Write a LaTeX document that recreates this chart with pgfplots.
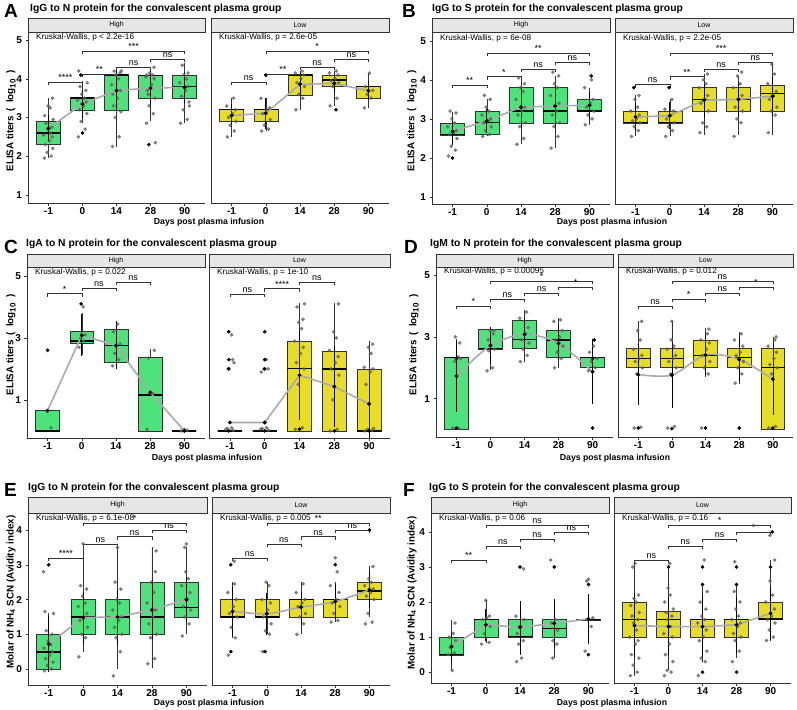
\documentclass[border=0pt]{standalone}
\usepackage{pgfplots}
\pgfplotsset{compat=1.18}
\usepgfplotslibrary{statistics}
\usepackage{fontspec}
\setmainfont{Liberation Sans}
\definecolor{hi}{RGB}{78,226,122}
\definecolor{lo}{RGB}{231,221,38}
\definecolor{mline}{RGB}{170,170,170}
\definecolor{stripbg}{RGB}{230,230,230}
\definecolor{dk}{RGB}{51,51,51}
\definecolor{ptc}{RGB}{95,95,95}
\pgfplotsset{
  fac/.style={scale only axis, height=171pt, xmin=0.4, xmax=5.6,
    axis lines=left, axis line style={-, dk, line width=0.6pt},
    xtick={1,2,3,4,5}, xticklabels={-1,0,14,28,90},
    tick align=outside, major tick length=2.5pt,
    tick style={dk, line width=0.5pt},
    /pgf/number format/assume math mode=true,
    ticklabel style={font=\bfseries\fontsize{10}{10}\selectfont, text=black},
    xticklabel style={inner sep=1.5pt},
    clip=false,
    boxplot/draw direction=y,
    boxplot/box extend=0.7, boxplot/whisker extend=0,
    boxplot/every median/.style={line width=1.4pt, black}},
  low/.style={ytick=\empty},
  pts/.style={only marks, mark=*, mark size=1.6pt, color=ptc, opacity=0.75},
  bpts/.style={only marks, mark=*, mark size=1.6pt, color=black},
  mln/.style={no marks, mline, line width=1.6pt},
  mpt/.style={only marks, mark=*, mark size=1.8pt, color=black,
    error bars/y dir=both, error bars/y explicit, error bars/error mark=none,
    error bars/error bar style={black, line width=0.6pt}},
}
\tikzset{strip/.style={fill=stripbg, draw=dk, line width=0.6pt},
  striptxt/.style={font=\fontsize{7}{7}\selectfont, inner sep=0pt},
  ttl/.style={anchor=west, inner sep=0pt, font=\bfseries\fontsize{10.3}{12}\selectfont},
  letter/.style={anchor=west, inner sep=0pt, font=\bfseries\fontsize{19}{19}\selectfont},
  xl/.style={font=\bfseries\fontsize{8.7}{10}\selectfont, inner sep=0pt},
  yl/.style={rotate=90, font=\bfseries\fontsize{9.8}{11}\selectfont, inner sep=0pt},
  brk/.style={dk, line width=0.5pt},
  sig/.style={anchor=base, inner sep=0pt, yshift=1.5pt, font=\fontsize{9}{9}\selectfont, text=black},
  kwst/.style={anchor=north west, inner sep=0pt, font=\fontsize{8.2}{9}\selectfont}}
\newcommand{\bx}[7]{\addplot[boxplot prepared={draw position=#2, lower whisker=#3, lower quartile=#4, median=#5, upper quartile=#6, upper whisker=#7}, fill=#1, draw=dk, line width=0.5pt] coordinates {};}
\newcommand{\brk}[4]{\draw[brk] ([yshift=-3pt]axis cs:#1,#3) -- (axis cs:#1,#3) -- node[sig]{#4} (axis cs:#2,#3) -- ([yshift=-3pt]axis cs:#2,#3);}
\newcommand{\kw}[1]{\node[kwst] at ([xshift=8pt,yshift=-1.5pt]rel axis cs:0,1) {Kruskal-Wallis, p #1};}
\newcommand{\strip}[5]{\draw[strip] (#1pt,-#3pt) rectangle (#2pt,-#4pt); \node[striptxt] at ({(#1+#2)/2*1pt},{-(#3+#4)/2*1pt}) {#5};}
\newcommand{\elisa}{ELISA titers\hspace{2pt} (\hspace{5pt}log\textsubscript{\fontsize{8}{8}\selectfont 10}\hspace{5pt})}
\begin{document}
\begin{tikzpicture}
\path[use as bounding box, fill=white] (0,0) rectangle (797pt,-709pt);
% ================= titles ==================
\node[letter] at (4pt,-11pt) {A};
\node[ttl] at (30pt,-9pt) {IgG to N protein for the convalescent plasma group};
\node[letter] at (402pt,-11pt) {B};
\node[ttl] at (432pt,-9pt) {IgG to S protein for the convalescent plasma group};
\node[letter] at (4pt,-247pt) {C};
\node[ttl] at (26pt,-244pt) {IgA to N protein for the convalescent plasma group};
\node[letter] at (404pt,-247pt) {D};
\node[ttl] at (430pt,-244pt) {IgM to N protein for the convalescent plasma group};
\node[letter] at (4pt,-490pt) {E};
\node[ttl] at (28pt,-488pt) {IgG to N protein for the convalescent plasma group};
\node[letter] at (403pt,-490pt) {F};
\node[ttl] at (429pt,-488pt) {IgG to S protein for the convalescent plasma group};
% strips
\strip{28}{205}{18}{32}{High}\strip{211}{389}{18}{32}{Low}
\strip{432}{610}{18}{32}{High}\strip{615}{793}{18}{32}{Low}
\strip{27}{205}{254}{267}{High}\strip{209}{390}{254}{267}{Low}
\strip{436}{613}{254}{267}{High}\strip{618}{793}{254}{267}{Low}
\strip{28}{207}{497}{513}{High}\strip{212}{390}{497}{513}{Low}
\strip{431}{609}{497}{513}{High}\strip{614}{791}{497}{513}{Low}
% axis titles
\node[xl] at (209pt,-222.5pt) {Days post plasma infusion};
\node[xl] at (612pt,-222.5pt) {Days post plasma infusion};
\node[xl] at (207pt,-458pt) {Days post plasma infusion};
\node[xl] at (615pt,-458pt) {Days post plasma infusion};
\node[xl] at (209pt,-703pt) {Days post plasma infusion};
\node[xl] at (612pt,-703pt) {Days post plasma infusion};
\node[yl] at (11pt,-121pt) {\elisa};
\node[yl] at (412pt,-121pt) {\elisa};
\node[yl] at (11pt,-345pt) {\elisa};
\node[yl] at (414pt,-345pt) {\elisa};
\node[yl] at (11pt,-592pt) {Molar of NH\textsubscript{4} SCN (Avidity index)};
\node[yl] at (412pt,-593pt) {Molar of NH\textsubscript{4} SCN (Avidity index)};

% ================= A High ==================
\begin{axis}[fac, at={(28pt,-203pt)}, anchor=south west, width=177pt, ymin=0.79, ymax=5.21, ytick={1,2,3,4,5}]
\bx{hi}{1}{1.95}{2.3}{2.6}{2.9}{3.5}
\bx{hi}{2}{2.85}{3.2}{3.5}{3.52}{3.95}
\bx{hi}{3}{2.25}{3.2}{4.1}{4.12}{4.25}
\bx{hi}{4}{2.9}{3.5}{4.08}{4.1}{4.3}
\bx{hi}{5}{2.85}{3.5}{3.8}{4.1}{4.4}
\addplot[pts] coordinates {(0.88,1.95)(1.08,2.0)(0.96,2.1)(1.13,2.2)(0.91,2.3)(1.03,2.4)(1.11,2.5)(0.86,2.55)(1.06,2.6)(0.98,2.7)(1.10,2.75)(0.93,2.85)(1.14,2.95)(0.89,3.05)(1.05,3.25)(0.99,3.3)(1.12,3.5)
(1.88,2.5)(2.08,2.7)(1.96,2.9)(2.13,3.1)(1.91,3.2)(2.03,3.3)(2.11,3.4)(1.86,3.45)(2.06,3.5)(1.98,3.6)(2.10,3.7)(1.93,3.8)(2.14,3.9)(1.89,4.2)
(2.88,2.25)(3.08,2.5)(2.96,3.0)(3.13,3.15)(2.91,3.3)(3.03,3.5)(3.11,3.7)(2.86,3.85)(3.06,4.0)(2.98,4.1)(3.10,4.15)(2.93,4.2)(3.14,4.2)(2.89,3.6)
(3.88,2.85)(4.08,3.1)(3.96,3.3)(4.13,3.5)(3.91,3.7)(4.03,3.85)(4.11,4.0)(3.86,4.05)(4.06,4.1)(3.98,4.15)(4.10,4.3)(3.93,3.6)(4.14,2.35)(3.89,4.1)
(4.88,2.85)(5.08,2.95)(4.96,3.2)(5.13,3.4)(4.91,3.55)(5.03,3.7)(5.11,3.8)(4.86,3.9)(5.06,4.0)(4.98,4.1)(5.10,4.15)(4.93,4.35)(5.14,3.3)};
\addplot[bpts] coordinates {(2.0,2.6)(1.95,4.1)(3.95,2.3)};
\addplot[mln] coordinates {(1,2.72)(2,3.35)(3,3.70)(4,3.76)(5,3.78)};
\addplot[mpt] coordinates {(1,2.72)+-(0,0.35)(2,3.35)+-(0,0.35)(3,3.70)+-(0,0.5)(4,3.76)+-(0,0.45)(5,3.78)+-(0,0.4)};
\brk{1}{2}{3.92}{****}\brk{2}{3}{4.12}{**}\brk{3}{4}{4.31}{ns}\brk{4}{5}{4.5}{ns}\brk{2}{5}{4.72}{***}
\kw{< 2.2e-16}
\end{axis}
% ================= A Low ==================
\begin{axis}[fac, low, at={(211pt,-203pt)}, anchor=south west, width=178pt, ymin=0.79, ymax=5.21]
\bx{lo}{1}{2.5}{2.9}{3.2}{3.21}{3.5}
\bx{lo}{2}{2.65}{2.9}{3.2}{3.21}{3.5}
\bx{lo}{3}{3.2}{3.58}{4.1}{4.11}{4.2}
\bx{lo}{4}{3.3}{3.8}{3.97}{4.1}{4.2}
\bx{lo}{5}{3.25}{3.5}{3.8}{3.81}{4.15}
\addplot[pts] coordinates {(0.88,2.5)(1.08,2.65)(0.96,2.8)(1.13,2.9)(0.91,3.0)(1.03,3.1)(1.11,3.2)(0.86,3.3)(1.06,3.5)
(1.88,2.65)(2.08,2.7)(1.96,2.8)(2.13,2.95)(1.91,3.1)(2.03,3.2)(2.11,3.25)(1.86,3.5)
(2.88,3.2)(3.08,3.5)(2.96,3.6)(3.13,3.8)(2.91,3.9)(3.03,4.0)(3.11,4.1)(2.86,4.15)(3.06,4.2)
(3.88,3.3)(4.08,3.5)(3.96,3.8)(4.13,3.9)(3.91,3.95)(4.03,4.0)(4.11,4.1)(3.86,4.15)(4.06,4.2)
(4.88,3.25)(5.08,3.5)(4.96,3.6)(5.13,3.7)(4.91,3.8)(5.03,4.15)};
\addplot[bpts] coordinates {(2.0,4.1)(4.05,3.2)};
\addplot[mln] coordinates {(1,3.05)(2,3.11)(3,3.86)(4,3.88)(5,3.69)};
\addplot[mpt] coordinates {(1,3.05)+-(0,0.3)(2,3.11)+-(0,0.4)(3,3.86)+-(0,0.3)(4,3.88)+-(0,0.25)(5,3.69)+-(0,0.25)};
\brk{1}{2}{3.92}{ns}\brk{2}{3}{4.12}{**}\brk{3}{4}{4.31}{ns}\brk{4}{5}{4.5}{ns}\brk{2}{5}{4.72}{*}
\kw{= 2.6e-05}
\end{axis}
% ================= B High ==================
\begin{axis}[fac, at={(432pt,-204pt)}, anchor=south west, width=178pt, ymin=0.82, ymax=5.2, ytick={1,2,3,4,5}]
\bx{hi}{1}{2.35}{2.58}{2.6}{2.9}{3.17}
\bx{hi}{2}{2.55}{2.6}{2.9}{3.2}{3.5}
\bx{hi}{3}{2.35}{2.9}{3.2}{3.8}{4.05}
\bx{hi}{4}{2.25}{2.9}{3.2}{3.8}{4.1}
\bx{hi}{5}{2.85}{3.2}{3.2}{3.5}{3.8}
\addplot[pts] coordinates {(0.88,2.05)(1.08,2.2)(0.96,2.3)(1.13,2.5)(0.91,2.6)(1.03,2.65)(1.11,2.7)(0.86,2.8)(1.06,2.9)(0.98,3.0)(1.10,3.15)(0.93,3.2)
(1.88,2.55)(2.08,2.6)(1.96,2.7)(2.13,2.8)(1.91,2.9)(2.03,2.95)(2.11,3.0)(1.86,3.1)(2.06,3.2)(1.98,3.3)(2.10,3.5)(1.93,3.6)
(2.88,2.35)(3.08,2.5)(2.96,2.8)(3.13,2.9)(2.91,3.1)(3.03,3.2)(3.11,3.3)(2.86,3.5)(3.06,3.7)(2.98,3.8)(3.10,3.9)(2.93,4.05)
(3.88,2.25)(4.08,2.55)(3.96,2.8)(4.13,2.9)(3.91,3.1)(4.03,3.2)(4.11,3.4)(3.86,3.6)(4.06,3.8)(3.98,3.9)(4.10,4.1)(3.93,4.2)
(4.88,2.85)(5.08,3.0)(4.96,3.1)(5.13,3.2)(4.91,3.3)(5.03,3.4)(5.11,3.5)(4.86,3.8)(5.06,4.0)};
\addplot[bpts] coordinates {(1.0,2.0)(5.05,4.1)};
\addplot[mln] coordinates {(1,2.68)(2,2.95)(3,3.30)(4,3.33)(5,3.35)};
\addplot[mpt] coordinates {(1,2.68)+-(0,0.35)(2,2.95)+-(0,0.3)(3,3.30)+-(0,0.5)(4,3.33)+-(0,0.5)(5,3.35)+-(0,0.35)};
\brk{1}{2}{3.87}{**}\brk{2}{3}{4.08}{*}\brk{3}{4}{4.28}{ns}\brk{4}{5}{4.46}{ns}\brk{2}{5}{4.69}{**}
\kw{= 6e-08}
\end{axis}
% ================= B Low ==================
\begin{axis}[fac, low, at={(615pt,-204pt)}, anchor=south west, width=178pt, ymin=0.82, ymax=5.2]
\bx{lo}{1}{2.55}{2.88}{2.9}{3.2}{3.6}
\bx{lo}{2}{2.55}{2.88}{2.9}{3.2}{3.5}
\bx{lo}{3}{2.6}{3.2}{3.5}{3.8}{4.15}
\bx{lo}{4}{2.6}{3.2}{3.5}{3.8}{4.1}
\bx{lo}{5}{2.6}{3.2}{3.65}{3.87}{4.4}
\addplot[pts] coordinates {(0.88,2.55)(1.08,2.7)(0.96,2.8)(1.13,2.9)(0.91,2.95)(1.03,3.0)(1.11,3.1)(0.86,3.2)(1.06,3.3)(0.98,3.5)(1.10,3.6)
(1.88,2.55)(2.08,2.7)(1.96,2.8)(2.13,2.9)(1.91,3.0)(2.03,3.1)(2.11,3.2)(1.86,3.25)(2.06,3.5)
(2.88,2.65)(3.08,2.8)(2.96,2.9)(3.13,3.2)(2.91,3.4)(3.03,3.5)(3.11,3.6)(2.86,3.8)(3.06,3.9)(2.98,4.0)(3.10,4.15)
(3.88,2.55)(4.08,2.9)(3.96,3.0)(4.13,3.2)(3.91,3.3)(4.03,3.5)(4.11,3.6)(3.86,3.8)(4.06,3.9)(3.98,4.1)(4.10,4.2)
(4.88,2.65)(5.08,3.1)(4.96,3.2)(5.13,3.3)(4.91,3.5)(5.03,3.6)(5.11,3.7)(4.86,3.9)(5.06,4.15)(4.98,4.4)};
\addplot[bpts] coordinates {(0.95,3.8)(1.98,3.8)};
\addplot[mln] coordinates {(1,3.05)(2,3.08)(3,3.48)(4,3.50)(5,3.58)};
\addplot[mpt] coordinates {(1,3.05)+-(0,0.35)(2,3.08)+-(0,0.35)(3,3.48)+-(0,0.45)(4,3.50)+-(0,0.45)(5,3.58)+-(0,0.5)};
\brk{1}{2}{3.89}{ns}\brk{2}{3}{4.08}{**}\brk{3}{4}{4.28}{ns}\brk{4}{5}{4.46}{ns}\brk{2}{5}{4.69}{***}
\kw{= 2.2e-05}
\end{axis}
% ================= C High ==================
\begin{axis}[fac, at={(27pt,-438pt)}, anchor=south west, width=178pt, ymin=-0.23, ymax=5.29, ytick={1,3,5}]
\bx{hi}{1}{0}{0}{0}{0.65}{0.65}
\bx{hi}{2}{2.45}{2.82}{2.9}{3.2}{3.8}
\bx{hi}{3}{2.0}{2.2}{2.75}{3.27}{3.54}
\bx{hi}{4}{0}{0}{1.16}{2.37}{2.63}
\bx{hi}{5}{0}{0}{0}{0}{0}
\addplot[pts] coordinates {(1.1,0.1)
(1.92,2.7)(2.06,2.9)(1.97,3.0)(2.1,3.1)(2.04,4.0)
(2.9,2.1)(3.08,2.3)(2.96,2.5)(3.12,2.8)(2.93,3.2)(3.05,3.45)
(3.9,0.05)(4.08,1.2)(3.95,2.35)(4.12,2.6)
(4.9,0.0)(5.08,0.02)(5.0,0.05)};
\addplot[bpts] coordinates {(1.0,2.6)(1.98,4.1)};
\addplot[mln] coordinates {(1,0.65)(2,3.09)(3,2.75)(4,1.24)(5,0.0)};
\addplot[mpt] coordinates {(1,0.65)+-(0,0)(2,3.09)+-(0,0.67)(3,2.75)+-(0,0.75)(4,1.24)+-(0,0)(5,0.0)+-(0,0)};
\brk{1}{2}{4.43}{*}\brk{2}{3}{4.61}{ns}\brk{3}{4}{4.8}{ns}
\kw{= 0.022}
\end{axis}
% ================= C Low ==================
\begin{axis}[fac, low, at={(209pt,-438pt)}, anchor=south west, width=181pt, ymin=-0.23, ymax=5.29]
\bx{lo}{1}{0}{0}{0}{0}{0}
\bx{lo}{2}{0}{0}{0}{0}{0}
\bx{lo}{3}{0}{0}{2.02}{2.88}{4.14}
\bx{lo}{4}{0}{0}{2.0}{2.58}{4.14}
\bx{lo}{5}{0}{0}{0}{2.0}{2.9}
\addplot[pts] coordinates {(0.88,0.05)(1.05,0.1)(1.1,0.02)(0.93,0.08)(1.12,2.2)(1.08,2.3)(0.95,2.0)(1.05,3.1)
(1.88,0.05)(2.05,0.1)(2.1,0.02)(1.93,0.08)(1.9,1.9)(2.05,2.3)(1.98,2.0)(2.1,2.0)
(2.88,0.05)(3.08,0.1)(2.96,1.5)(3.13,2.0)(2.91,2.2)(3.03,2.5)(3.11,2.7)(2.86,2.9)(3.06,3.3)(2.98,3.5)(3.10,3.6)(2.93,4.0)(3.14,4.1)
(3.88,0.0)(4.08,0.05)(3.96,1.0)(4.13,1.8)(3.91,2.0)(4.03,2.2)(4.11,2.4)(3.86,2.6)(4.06,3.0)(3.98,3.2)(4.12,4.1)
(4.88,0.0)(5.08,0.02)(4.96,0.05)(5.13,0.08)(4.91,1.5)(5.03,1.9)(5.11,2.0)(4.86,2.05)(5.06,2.5)(4.98,2.7)(5.10,2.8)};
\addplot[bpts] coordinates {(0.97,0.0)(0.97,2.0)(0.97,2.3)(0.97,3.2)(2.0,0.0)(2.0,2.0)(2.0,2.3)(2.0,3.2)(3.0,0.05)(4.0,0.0)(5.0,0.0)};
\addplot[mln] coordinates {(1,0.27)(2,0.27)(3,1.80)(4,1.43)(5,0.87)};
\addplot[mpt] coordinates {(1,0.27)+-(0,0)(2,0.27)+-(0,0)(3,1.80)+-(0,1.45)(4,1.43)+-(0,1.3)(5,0.87)+-(0,1.1)};
\brk{1}{2}{4.41}{ns}\brk{2}{3}{4.59}{****}\brk{3}{4}{4.8}{ns}
\kw{= 1e-10}
\end{axis}
% ================= D High ==================
\begin{axis}[fac, at={(436pt,-437pt)}, anchor=south west, width=177pt, ymin=-0.24, ymax=5.29, ytick={1,3,5}]
\bx{hi}{1}{0}{0}{2.33}{2.35}{2.92}
\bx{hi}{2}{1.92}{2.6}{2.62}{3.24}{3.24}
\bx{hi}{3}{2.2}{2.62}{2.92}{3.53}{3.87}
\bx{hi}{4}{2.0}{2.33}{2.9}{3.22}{3.6}
\bx{hi}{5}{1.95}{2.0}{2.33}{2.35}{2.9}
\addplot[pts] coordinates {(0.9,0.05)(1.07,0.03)(0.95,2.2)(1.12,2.3)(1.05,2.35)(1.1,2.8)(0.97,3.0)
(1.9,1.9)(2.06,2.0)(1.95,2.55)(2.12,2.6)(1.93,2.9)(2.08,3.1)(2.0,3.2)(2.1,3.2)
(2.88,2.2)(3.08,2.4)(2.96,2.6)(3.13,2.8)(2.91,2.9)(3.03,3.1)(3.11,3.3)(2.86,3.6)(3.06,3.8)
(3.88,2.0)(4.08,2.3)(3.96,2.5)(4.13,2.7)(3.91,2.9)(4.03,3.0)(4.11,3.2)(3.86,3.5)(4.06,3.55)
(4.88,1.9)(5.08,2.0)(4.96,2.2)(5.13,2.3)(4.91,2.5)(5.03,2.7)};
\addplot[bpts] coordinates {(1.0,0.05)(1.0,2.3)(5.0,0.05)(5.05,2.9)(5.0,2.3)};
\addplot[mln, smooth, tension=0.5] coordinates {(1,1.73)(2,2.72)(3,3.08)(4,2.79)(5,1.87)};
\addplot[mpt] coordinates {(1,1.73)+-(0,1.15)(2,2.72)+-(0,0.6)(3,3.08)+-(0,0.5)(4,2.79)+-(0,0.55)(5,1.87)+-(0,1.05)};
\brk{1}{2}{4.0}{*}\brk{2}{3}{4.21}{ns}\brk{3}{4}{4.41}{ns}\brk{4}{5}{4.61}{*}\brk{2}{5}{4.81}{*}
\kw{= 0.00095}
\end{axis}
% ================= D Low ==================
\begin{axis}[fac, low, at={(618pt,-437pt)}, anchor=south west, width=175pt, ymin=-0.24, ymax=5.29]
\bx{lo}{1}{1.75}{2.0}{2.3}{2.62}{3.5}
\bx{lo}{2}{1.75}{2.0}{2.3}{2.62}{3.5}
\bx{lo}{3}{1.7}{2.0}{2.4}{2.9}{3.27}
\bx{lo}{4}{1.47}{2.0}{2.33}{2.62}{3.15}
\bx{lo}{5}{0}{0}{2.0}{2.62}{3.0}
\addplot[pts] coordinates {(0.88,0.05)(1.08,0.08)(0.96,1.8)(1.13,2.0)(0.91,2.2)(1.03,2.3)(1.11,2.4)(0.86,2.6)(1.06,2.9)(0.98,3.2)(1.10,3.5)
(1.88,0.05)(2.08,0.1)(1.96,1.8)(2.13,2.0)(1.91,2.2)(2.03,2.3)(2.11,2.4)(1.86,2.6)(2.06,2.7)(1.98,2.9)(2.0,3.5)
(2.88,0.05)(3.08,1.8)(2.96,2.0)(3.13,2.2)(2.91,2.4)(3.03,2.6)(3.11,2.8)(2.86,2.9)(3.06,3.1)(3.1,3.25)
(3.88,1.5)(4.08,1.8)(3.96,2.0)(4.13,2.2)(3.91,2.4)(4.03,2.5)(4.11,2.7)(3.86,2.9)(4.06,3.1)
(4.88,0.05)(5.08,0.1)(4.96,1.8)(5.13,2.0)(4.91,2.1)(5.03,2.3)(5.11,2.5)(4.86,2.7)(5.06,2.9)(5.1,3.0)};
\addplot[bpts] coordinates {(1.0,0.05)(2.0,0.03)(3.0,0.05)(4.0,0.05)(5.0,0.05)};
\addplot[mln, smooth, tension=0.5] coordinates {(1,1.78)(2,1.76)(3,2.41)(4,2.27)(5,1.63)};
\addplot[mpt] coordinates {(1,1.78)+-(0,1.0)(2,1.76)+-(0,1.05)(3,2.41)+-(0,0.65)(4,2.27)+-(0,0.7)(5,1.63)+-(0,1.15)};
\brk{1}{2}{4.0}{ns}\brk{2}{3}{4.21}{*}\brk{3}{4}{4.41}{ns}\brk{4}{5}{4.61}{*}\brk{2}{5}{4.81}{ns}
\kw{= 0.012}
\end{axis}
% ================= E High ==================
\begin{axis}[fac, at={(28pt,-685pt)}, anchor=south west, width=179pt, height=172pt, ymin=-0.46, ymax=4.49, ytick={0,1,2,3,4}]
\bx{hi}{1}{-0.05}{0}{0.49}{1.0}{1.6}
\bx{hi}{2}{0.5}{1.0}{1.5}{2.0}{3.6}
\bx{hi}{3}{0}{1.0}{1.5}{2.0}{3.5}
\bx{hi}{4}{0.02}{1.0}{1.5}{2.5}{3.5}
\bx{hi}{5}{1.0}{1.5}{1.77}{2.5}{3.5}
\addplot[pts] coordinates {(0.88,-0.05)(1.08,0.0)(0.96,0.1)(1.13,0.2)(0.91,0.3)(1.03,0.4)(1.11,0.5)(0.86,0.6)(1.06,0.7)(0.98,0.8)(1.10,1.0)(0.93,1.1)(1.14,1.6)(0.89,1.65)(0.85,2.8)
(1.88,0.35)(2.08,0.9)(1.96,1.0)(2.13,1.2)(1.91,1.4)(2.03,1.5)(2.11,1.6)(1.86,1.8)(2.06,1.9)(1.98,2.1)(2.10,2.3)(1.93,2.4)(2.0,3.6)
(2.88,-0.2)(3.08,0.5)(2.96,0.9)(3.13,1.0)(2.91,1.2)(3.03,1.4)(3.11,1.5)(2.86,1.7)(3.06,1.9)(2.98,2.0)(3.10,2.3)(2.93,2.5)(3.0,3.5)
(3.88,0.15)(4.08,0.3)(3.96,0.9)(4.13,1.0)(3.91,1.3)(4.03,1.5)(4.11,1.7)(3.86,1.9)(4.06,2.2)(3.98,2.5)(4.10,2.8)(4.12,3.4)
(4.88,0.95)(5.08,1.3)(4.96,1.5)(5.13,1.7)(4.91,1.8)(5.03,2.0)(5.11,2.2)(4.86,2.4)(5.06,2.6)(4.98,2.8)(4.95,3.5)(5.0,3.6)};
\addplot[bpts] coordinates {(1.0,3.0)};
\addplot[mln] coordinates {(1,0.72)(2,1.48)(3,1.50)(4,1.70)(5,2.00)};
\addplot[mpt] coordinates {(1,0.72)+-(0,0.8)(2,1.48)+-(0,0.75)(3,1.50)+-(0,0.8)(4,1.70)+-(0,0.85)(5,2.00)+-(0,0.65)};
\brk{1}{2}{3.19}{****}\brk{2}{3}{3.6}{ns}\brk{3}{4}{3.81}{ns}\brk{4}{5}{4.0}{ns}\brk{2}{5}{4.19}{*}
\kw{= 6.1e-08}
\end{axis}
% ================= E Low ==================
\begin{axis}[fac, low, at={(212pt,-685pt)}, anchor=south west, width=178pt, height=172pt, ymin=-0.46, ymax=4.49]
\bx{lo}{1}{0.9}{1.5}{1.5}{2.0}{2.5}
\bx{lo}{2}{1.0}{1.5}{1.5}{2.0}{2.5}
\bx{lo}{3}{1.0}{1.5}{2.0}{2.02}{2.5}
\bx{lo}{4}{1.35}{1.5}{2.0}{2.02}{2.5}
\bx{lo}{5}{1.5}{2.0}{2.25}{2.5}{2.97}
\addplot[pts] coordinates {(0.88,0.4)(1.08,0.9)(0.96,1.2)(1.13,1.5)(0.91,1.6)(1.03,1.8)(1.11,2.0)(0.86,2.2)(1.06,2.45)(1.05,3.1)
(1.88,0.5)(2.08,1.0)(1.96,1.1)(2.13,1.3)(1.91,1.5)(2.03,1.7)(2.11,1.9)(1.86,2.0)(2.06,2.4)(1.98,2.5)
(2.88,1.0)(3.08,1.3)(2.96,1.5)(3.13,1.6)(2.91,1.8)(3.03,1.9)(3.11,2.0)(2.86,2.2)(3.06,2.45)
(3.88,1.35)(4.08,1.4)(3.96,1.6)(4.13,1.8)(3.91,1.9)(4.03,2.0)(4.11,2.2)(3.86,2.4)(4.06,2.8)(4.0,3.2)
(4.88,1.3)(5.08,1.35)(4.96,1.6)(5.13,2.0)(4.91,2.1)(5.03,2.2)(5.11,2.3)(4.86,2.4)(5.06,2.5)(4.98,2.6)(5.1,2.95)};
\addplot[bpts] coordinates {(0.95,0.5)(0.95,3.0)(1.95,0.5)(4.0,3.0)(5.0,4.0)};
\addplot[mln, smooth, tension=0.5] coordinates {(1,1.66)(2,1.59)(3,1.78)(4,1.94)(5,2.28)};
\addplot[mpt] coordinates {(1,1.66)+-(0,0.7)(2,1.59)+-(0,0.6)(3,1.78)+-(0,0.45)(4,1.94)+-(0,0.5)(5,2.28)+-(0,0.5)};
\brk{1}{2}{3.19}{ns}\brk{2}{3}{3.6}{ns}\brk{3}{4}{3.81}{ns}\brk{4}{5}{4.0}{ns}\brk{2}{5}{4.19}{**}
\kw{= 0.005}
\end{axis}
% ================= F High ==================
\begin{axis}[fac, at={(431pt,-683pt)}, anchor=south west, width=178pt, height=170pt, ymin=-0.31, ymax=4.54, ytick={0,1,2,3,4}]
\bx{hi}{1}{0.05}{0.49}{0.5}{1.0}{1.5}
\bx{hi}{2}{0.82}{1.0}{1.5}{1.52}{2.06}
\bx{hi}{3}{0.5}{1.0}{1.02}{1.5}{2.0}
\bx{hi}{4}{0.4}{1.0}{1.25}{1.5}{2.08}
\bx{hi}{5}{0.8}{1.49}{1.5}{1.51}{2.23}
\addplot[pts] coordinates {(1.02,0.05)(0.9,0.5)(1.08,0.55)(0.96,0.7)(1.12,0.9)(0.93,1.0)(1.05,1.1)(1.1,1.4)
(1.88,0.8)(2.1,0.85)(1.96,1.1)(2.13,1.3)(1.91,1.5)(2.03,1.55)(2.11,1.6)(2.0,2.05)
(2.9,0.3)(3.05,0.4)(2.96,0.8)(3.1,0.9)(2.92,1.1)(3.03,1.3)(3.12,1.5)(2.88,1.6)(3.1,2.95)
(3.95,0.4)(4.08,0.8)(3.96,0.9)(4.1,1.2)(3.92,1.4)(4.03,1.5)(3.9,3.2)
(4.9,0.6)(5.08,1.3)(4.96,1.5)(5.13,1.55)(4.95,2.6)(5.0,2.65)};
\addplot[bpts] coordinates {(3.0,3.0)(4.0,3.0)(5.0,0.5)(5.0,2.5)};
\addplot[mln] coordinates {(1,0.73)(2,1.35)(3,1.28)(4,1.39)(5,1.52)};
\addplot[mpt] coordinates {(1,0.73)+-(0,0.4)(2,1.35)+-(0,0.45)(3,1.28)+-(0,0.75)(4,1.39)+-(0,0.7)(5,1.52)+-(0,0.7)};
\brk{1}{2}{3.19}{**}\brk{2}{3}{3.59}{ns}\brk{3}{4}{3.79}{ns}\brk{4}{5}{4.0}{ns}\brk{2}{5}{4.19}{ns}
\kw{= 0.06}
\end{axis}
% ================= F Low ==================
\begin{axis}[fac, low, at={(614pt,-683pt)}, anchor=south west, width=177pt, height=170pt, ymin=-0.31, ymax=4.54]
\bx{lo}{1}{-0.1}{1.0}{1.5}{2.0}{3.13}
\bx{lo}{2}{0.05}{1.0}{1.5}{1.75}{3.0}
\bx{lo}{3}{0.3}{1.0}{1.5}{1.52}{2.5}
\bx{lo}{4}{0.4}{1.0}{1.5}{1.52}{2.5}
\bx{lo}{5}{0.9}{1.5}{1.52}{2.0}{3.2}
\addplot[pts] coordinates {(0.88,-0.1)(1.08,0.0)(0.96,0.2)(1.13,0.4)(0.91,0.5)(1.03,0.8)(1.11,0.9)(0.86,1.0)(1.06,1.2)(0.98,1.4)(1.10,1.5)(0.93,1.6)(1.14,1.7)(0.89,1.9)(1.05,2.0)(0.99,2.1)(1.12,2.2)(0.95,3.0)(1.02,3.1)
(1.88,-0.1)(2.08,0.0)(1.96,0.05)(2.13,0.3)(1.91,0.5)(2.03,0.8)(2.11,1.0)(1.86,1.1)(2.06,1.3)(1.98,1.5)(2.10,1.6)(1.93,1.7)(2.14,1.8)(1.89,2.0)(2.05,2.2)(1.99,2.4)(2.04,3.1)
(2.88,-0.1)(3.08,0.3)(2.96,0.4)(3.13,0.6)(2.91,0.9)(3.03,1.0)(3.11,1.2)(2.86,1.4)(3.06,1.5)(2.98,1.6)(3.10,1.8)(2.93,2.0)(3.14,2.3)(3.05,3.2)
(3.88,0.3)(4.08,0.6)(3.96,0.9)(4.13,1.0)(3.91,1.1)(4.03,1.3)(4.11,1.4)(3.86,1.5)(4.06,1.6)(3.98,1.8)(4.10,2.0)(3.93,2.3)(3.95,3.15)
(4.88,0.9)(5.08,1.0)(4.96,1.2)(5.13,1.4)(4.91,1.5)(5.03,1.6)(5.11,1.8)(4.86,2.0)(5.06,2.2)(4.98,2.6)(5.12,3.2)(4.98,3.9)};
\addplot[bpts] coordinates {(2.0,3.0)(3.0,0.0)(3.0,2.5)(3.0,3.0)(4.0,0.0)(4.0,2.5)(4.0,3.0)(5.0,3.0)(5.05,4.0)};
\addplot[mln] coordinates {(1,1.33)(2,1.30)(3,1.30)(4,1.35)(5,1.68)};
\addplot[mpt] coordinates {(1,1.33)+-(0,0.9)(2,1.30)+-(0,0.85)(3,1.30)+-(0,0.9)(4,1.35)+-(0,0.8)(5,1.68)+-(0,0.75)};
\brk{1}{2}{3.19}{ns}\brk{2}{3}{3.59}{ns}\brk{3}{4}{3.79}{ns}\brk{4}{5}{4.0}{*}\brk{2}{5}{4.19}{*}
\kw{= 0.16}
\end{axis}
\end{tikzpicture}
\end{document}
